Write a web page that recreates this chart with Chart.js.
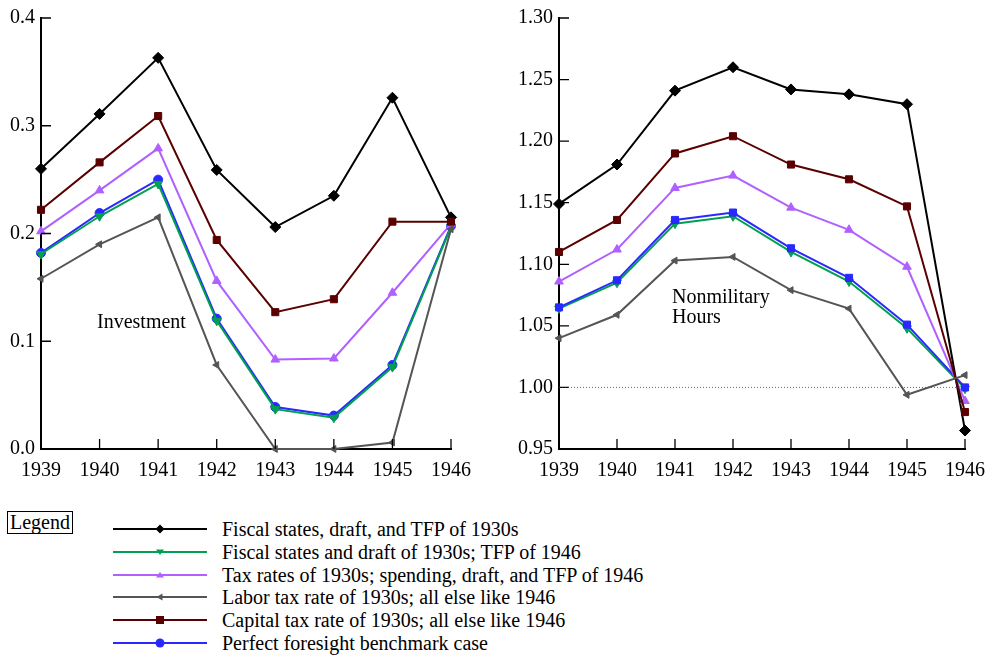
<!DOCTYPE html>
<html>
<head>
<meta charset="utf-8">
<script src="https://cdn.jsdelivr.net/npm/chart.js@4/dist/chart.umd.min.js"></script>
<style>
    body { margin: 0; background: #fff; width: 995px; height: 655px; overflow: hidden; position: relative; font-family: "Liberation Serif", "Times New Roman", serif; }
    .box { position: absolute; }
    .note { position: absolute; font-size: 20px; line-height: 20px; color: #000; white-space: nowrap; }
    #legend_title { position: absolute; left: 7px; top: 511px; width: 64px; height: 21px; border: 1px solid #000; font-size: 20px; line-height: 21px; text-align: center; }
    .legrow { position: absolute; left: 113px; height: 22px; white-space: nowrap; font-size: 20px; }
    .legrow svg { position: absolute; left: 0; top: 4px; }
    .legrow span { position: absolute; left: 109px; top: 0; line-height: 22px; }
</style>
</head>
<body>
<div class="box" style="left:0;top:0;width:490px;height:495px"><canvas id="inv_chart"></canvas></div>
<div class="box" style="left:500px;top:0;width:495px;height:495px"><canvas id="hrs_chart"></canvas></div>
<div class="note" style="left:97px;top:311px">Investment</div>
<div class="note" style="left:672px;top:286px">Nonmilitary<br>Hours</div>
<div id="legend_title">Legend</div>
<div id="legend"></div>
<script>
var years = ["1939", "1940", "1941", "1942", "1943", "1944", "1945", "1946"];

var series_names = [
    "Fiscal states, draft, and TFP of 1930s",
    "Fiscal states and draft of 1930s; TFP of 1946",
    "Tax rates of 1930s; spending, draft, and TFP of 1946",
    "Labor tax rate of 1930s; all else like 1946",
    "Capital tax rate of 1930s; all else like 1946",
    "Perfect foresight benchmark case"
];
var series_colors = ["#000000", "#00a050", "#b060ff", "#555555", "#5a0000", "#2828ff"];

// investment panel
var inv_fiscal_all = [0.260, 0.311, 0.363, 0.259, 0.206, 0.235, 0.326, 0.215];
var inv_fiscal_draft = [0.181, 0.216, 0.246, 0.119, 0.037, 0.029, 0.076, 0.206];
var inv_tax_rates = [0.202, 0.240, 0.279, 0.156, 0.083, 0.084, 0.145, 0.209];
var inv_labor_tax = [0.158, 0.190, 0.215, 0.078, 0.000, 0.000, 0.006, 0.204];
var inv_capital_tax = [0.222, 0.266, 0.309, 0.194, 0.127, 0.139, 0.211, 0.211];
var inv_foresight = [0.182, 0.219, 0.250, 0.121, 0.039, 0.031, 0.078, 0.207];
var inv_ticks = [0.0, 0.1, 0.2, 0.3, 0.4];

// nonmilitary hours panel
var hrs_fiscal_all = [1.149, 1.181, 1.241, 1.260, 1.242, 1.238, 1.230, 0.965];
var hrs_fiscal_draft = [1.064, 1.085, 1.133, 1.139, 1.110, 1.086, 1.048, 0.999];
var hrs_tax_rates = [1.086, 1.112, 1.162, 1.172, 1.146, 1.128, 1.098, 0.989];
var hrs_labor_tax = [1.040, 1.059, 1.103, 1.106, 1.079, 1.064, 0.994, 1.010];
var hrs_capital_tax = [1.110, 1.136, 1.190, 1.204, 1.181, 1.169, 1.147, 0.980];
var hrs_foresight = [1.065, 1.087, 1.136, 1.142, 1.113, 1.089, 1.051, 1.000];
var hrs_ticks = [0.95, 1.00, 1.05, 1.10, 1.15, 1.20, 1.25, 1.30];

var FONT = "'Liberation Serif', 'Times New Roman', serif";
Chart.defaults.font.family = FONT;
Chart.defaults.font.size = 20;
Chart.defaults.color = "#000";

function make_set(i, values, style, rot, radius) {
    return {
        label: series_names[i],
        data: values,
        borderColor: series_colors[i],
        backgroundColor: series_colors[i],
        pointBackgroundColor: series_colors[i],
        pointBorderColor: series_colors[i],
        borderWidth: 2,
        pointStyle: style,
        rotation: rot,
        pointRadius: radius,
        pointBorderWidth: 1,
        tension: 0,
        clip: false
    };
}

// ticks pointing into the plot, like the original
var inner_ticks = {
    id: "inner_ticks",
    afterDraw: function(chart) {
        var ctx = chart.ctx, a = chart.chartArea;
        var xs = chart.scales.x, ys = chart.scales.y;
        ctx.save();
        ctx.strokeStyle = "#000";
        ctx.lineWidth = 1.3;
        ctx.beginPath();
        for (var i = 0; i < xs.ticks.length; i++) {
            var px = xs.getPixelForTick(i);
            ctx.moveTo(px, a.bottom);
            ctx.lineTo(px, a.bottom - 10);
        }
        for (var j = 0; j < ys.ticks.length; j++) {
            var py = ys.getPixelForTick(j);
            ctx.moveTo(a.left, py);
            ctx.lineTo(a.left + 10, py);
        }
        ctx.stroke();
        var ref = chart.options.plugins.inner_ticks.ref;
        if (ref !== undefined) {
            var ry = ys.getPixelForValue(ref);
            ctx.strokeStyle = "#444";
            ctx.lineWidth = 0.8;
            ctx.setLineDash([1, 2]);
            ctx.beginPath();
            ctx.moveTo(a.left, ry);
            ctx.lineTo(a.right, ry);
            ctx.stroke();
        }
        ctx.restore();
    }
};

function make_config(sets, tick_values, ymin, ymax, digits, axis_w, pad_right, ref) {
    return {
        type: "line",
        data: { labels: years, datasets: sets },
        options: {
            responsive: true,
            maintainAspectRatio: false,
            animation: false,
            events: [],
            layout: { padding: { top: 15, right: pad_right, left: 0, bottom: 0 } },
            plugins: {
                legend: { display: false },
                tooltip: { enabled: false },
                inner_ticks: { ref: ref }
            },
            scales: {
                x: {
                    offset: false,
                    grid: { display: false, drawTicks: false },
                    border: { display: true, color: "#000", width: 2 },
                    ticks: { color: "#000", padding: 10, maxRotation: 0, font: { family: FONT, size: 20 } },
                    afterFit: function(s) { s.height = 46; }
                },
                y: {
                    min: ymin,
                    max: ymax,
                    grid: { display: false, drawTicks: false },
                    border: { display: true, color: "#000", width: 2 },
                    afterBuildTicks: function(s) {
                        s.ticks = tick_values.map(function(v) { return { value: v }; });
                    },
                    ticks: {
                        color: "#000",
                        padding: 6,
                        font: { family: FONT, size: 20 },
                        callback: function(v) { return Number(v).toFixed(digits); }
                    },
                    afterFit: function(s) { s.width = axis_w; }
                }
            }
        },
        plugins: [inner_ticks]
    };
}

var inv_sets = [
    make_set(3, inv_labor_tax, "triangle", 270, 4),
    make_set(4, inv_capital_tax, "rect", 0, 5),
    make_set(2, inv_tax_rates, "triangle", 0, 5),
    make_set(1, inv_fiscal_draft, "triangle", 180, 5),
    make_set(5, inv_foresight, "circle", 0, 4.5),
    make_set(0, inv_fiscal_all, "rectRot", 0, 5.5)
];
var hrs_sets = [
    make_set(3, hrs_labor_tax, "triangle", 270, 4),
    make_set(4, hrs_capital_tax, "rect", 0, 5),
    make_set(2, hrs_tax_rates, "triangle", 0, 5),
    make_set(5, hrs_foresight, "rect", 0, 5),
    make_set(1, hrs_fiscal_draft, "triangle", 180, 5),
    make_set(0, hrs_fiscal_all, "rectRot", 0, 5.5)
];

function draw_charts() {
    new Chart(document.getElementById("inv_chart").getContext("2d"),
        make_config(inv_sets, inv_ticks, 0, 0.4, 1, 41, 39));
    new Chart(document.getElementById("hrs_chart").getContext("2d"),
        make_config(hrs_sets, hrs_ticks, 0.95, 1.30, 2, 59, 27, 1.0));
}

// legend rows: line with marker, then the text
var legend_marks = [
    '<path d="M47 2.5 L51.5 7 L47 11.5 L42.5 7 Z"/>',
    '<path d="M43 4.5 L51 4.5 L47 10 Z"/>',
    '<path d="M43 9.5 L51 9.5 L47 4 Z"/>',
    '<path d="M43.5 7 L49.5 3.5 L49.5 10.5 Z"/>',
    '<rect x="43" y="3" width="8" height="8"/>',
    '<circle cx="47" cy="7" r="4.5"/>'
];
var legend = document.getElementById("legend");
for (var i = 0; i < series_names.length; i++) {
    var row = document.createElement("div");
    row.className = "legrow";
    row.style.top = (518 + i * 22.8) + "px";
    var c = series_colors[i];
    row.innerHTML = '<svg width="94" height="14"><line x1="0" y1="7" x2="94" y2="7" stroke="' + c +
        '" stroke-width="2"/><g fill="' + c + '">' + legend_marks[i] + '</g></svg><span>' + series_names[i] + '</span>';
    legend.appendChild(row);
}

if (document.fonts && document.fonts.load) {
    document.fonts.load("20px 'Liberation Serif'").then(draw_charts, draw_charts);
} else {
    draw_charts();
}
</script>
</body>
</html>
